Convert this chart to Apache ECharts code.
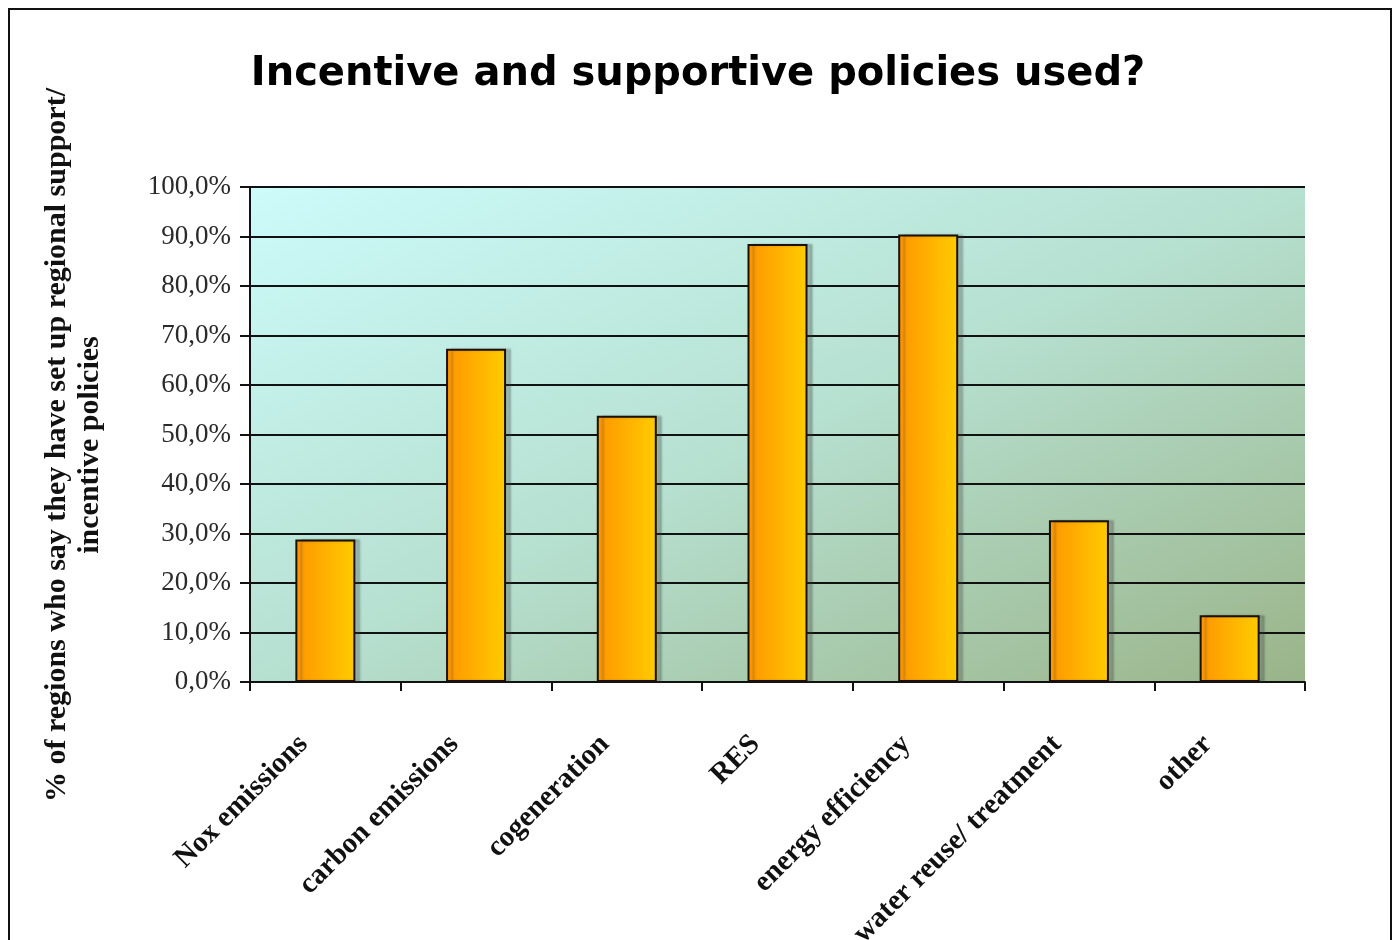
<!DOCTYPE html>
<html>
<head>
<meta charset="utf-8">
<title>Incentive and supportive policies used?</title>
<script src="https://cdn.jsdelivr.net/npm/echarts@6/dist/echarts.min.js"></script>
<style>
  html, body { margin: 0; padding: 0; background: #ffffff; }
  #chart { width: 1396px; height: 940px; }
</style>
</head>
<body>
<div id="chart"></div>
<script>
// Policy areas and share of regions (%) reporting support/incentive policies
const categories = [
  'Nox emissions',
  'carbon emissions',
  'cogeneration',
  'RES',
  'energy efficiency',
  'water reuse/ treatment',
  'other'
];
const shares = [28.8, 67.3, 53.8, 88.5, 90.4, 32.7, 13.5];

const chartTitle = 'Incentive and supportive policies used?';
const yAxisTitle = '% of regions who say they have set up regional support/\nincentive policies';

const chart = echarts.init(document.getElementById('chart'), null, { renderer: 'canvas' });

const serif = '"Liberation Serif", "Times New Roman", serif';

chart.setOption({
  backgroundColor: '#ffffff',
  animation: false,
  title: {
    text: chartTitle,
    left: 'center',
    top: 50,
    textStyle: {
      fontFamily: '"DejaVu Sans", Verdana, sans-serif',
      fontWeight: 'bold',
      fontSize: 40,
      color: '#000000'
    }
  },
  graphic: [
    {
      // outer frame
      type: 'rect',
      shape: { x: 9, y: 9, width: 1382, height: 950 },
      style: { fill: 'none', stroke: '#111111', lineWidth: 2 },
      silent: true
    },
    {
      // value axis title, two lines, reading bottom to top
      type: 'text',
      x: 74,
      y: 445,
      rotation: Math.PI / 2,
      style: {
        text: yAxisTitle,
        font: 'bold 30px "Liberation Serif", "Times New Roman", serif',
        lineHeight: 33,
        fill: '#111111',
        align: 'center',
        verticalAlign: 'middle'
      },
      silent: true
    }
  ],
  grid: {
    left: 250,
    right: 91,
    top: 187,
    bottom: 258,
    containLabel: false,
    outerBoundsMode: 'none',
    show: true,
    borderWidth: 0,
    backgroundColor: {
      // diagonal wash: light cyan top-left to sage green bottom-right
      type: 'linear', x: 0, y: 0, x2: 0.361, y2: 1.639,
      colorStops: [
        { offset: 0, color: '#ccfbfa' },
        { offset: 0.5, color: '#b6e0d0' },
        { offset: 1, color: '#9ab489' }
      ]
    }
  },
  xAxis: {
    type: 'category',
    data: categories,
    axisLine: { show: true, lineStyle: { color: '#111111', width: 2 } },
    axisTick: { show: true, alignWithLabel: false, length: 9, lineStyle: { color: '#111111', width: 2 } },
    axisLabel: {
      interval: 0,
      rotate: 45,
      margin: 36,
      padding: [0, 31, 0, 0],
      fontFamily: serif,
      fontWeight: 'bold',
      fontSize: 29,
      color: '#111111'
    },
    splitLine: { show: false }
  },
  yAxis: {
    type: 'value',
    min: 0,
    max: 100,
    interval: 10,
    axisLine: { show: true, lineStyle: { color: '#111111', width: 2 } },
    axisTick: { show: true, inside: false, length: 10, lineStyle: { color: '#111111', width: 2 } },
    axisLabel: {
      margin: 19,
      fontFamily: serif,
      fontSize: 27,
      color: '#2a2a2a',
      formatter: v => v.toFixed(1).replace('.', ',') + '%'
    },
    splitLine: { show: true, lineStyle: { color: '#111111', width: 2 } }
  },
  series: [{
    type: 'bar',
    data: shares,
    barWidth: 60,
    itemStyle: {
      color: {
        type: 'linear', x: 0, y: 0, x2: 1, y2: 0,
        colorStops: [
          { offset: 0, color: '#ff9500' },
          { offset: 1, color: '#ffcc00' }
        ]
      },
      borderColor: '#1a1008',
      borderWidth: 2,
      shadowColor: 'rgba(60,60,60,0.28)',
      shadowOffsetX: 5,
      shadowOffsetY: 0,
      shadowBlur: 2
    },
    label: { show: false }
  }]
});
</script>
</body>
</html>
